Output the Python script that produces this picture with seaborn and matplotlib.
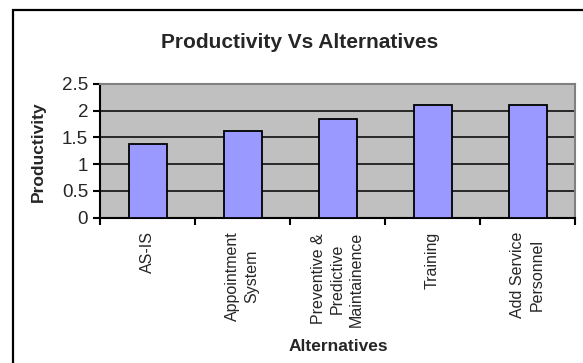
import matplotlib
matplotlib.use("Agg")
import matplotlib.pyplot as plt
from matplotlib.patches import Rectangle
import seaborn as sns

# Chart data
categories = [
    "AS-IS",
    "Appointment\nSystem",
    "Preventive &\nPredictive\nMaintainence",
    "Training",
    "Add Service\nPersonnel",
]
productivity = [1.38, 1.62, 1.84, 2.1, 2.1]
y_ticks = [0, 0.5, 1, 1.5, 2, 2.5]

sns.set_style("ticks")
plt.rcParams["font.family"] = ["Liberation Sans", "DejaVu Sans"]

W, H = 583, 363
fig = plt.figure(figsize=(W / 100, H / 100), dpi=100)
fig.patch.set_facecolor("white")

# Chart-area frame (left and top edges visible)
fig.patches.append(Rectangle((13 / W, -0.1), 1.2, 1 - 10 / H + 0.1,
                             transform=fig.transFigure, fill=False,
                             edgecolor="black", linewidth=1.6, zorder=0))

ax = fig.add_axes([100 / W, 1 - 217.5 / H, 475 / W, 133.5 / H])
ax.set_facecolor("#C0C0C0")

sns.barplot(x=categories, y=productivity, ax=ax, color="#9999FF",
            saturation=1, width=0.4, edgecolor="black", linewidth=1.3,
            zorder=3)

ax.set_xlim(-0.5, len(categories) - 0.5)
ax.set_ylim(0, 2.5)
ax.set_yticks(y_ticks)
ax.set_yticklabels([f"{t:g}" for t in y_ticks], fontsize=13.5)

# Horizontal gridlines
for t in y_ticks[1:-1]:
    ax.axhline(t, color="black", linewidth=1.1, zorder=1)

# Category labels centred under bars, tick marks on category boundaries
ax.set_xticks(range(len(categories)))
ax.set_xticklabels(categories, rotation=90, ha="center", va="top",
                   multialignment="center", fontsize=11.5, linespacing=1.35)
ax.tick_params(axis="x", which="major", length=0, pad=10)
ax.set_xticks([i - 0.5 for i in range(len(categories) + 1)], minor=True)
ax.tick_params(axis="x", which="minor", length=5, width=1.5,
               color="black", direction="out")
ax.tick_params(axis="y", length=5, width=1.5, color="black",
               direction="out", pad=3.5)

for side in ("left", "bottom"):
    ax.spines[side].set_color("black")
    ax.spines[side].set_linewidth(1.5)
for side in ("top", "right"):
    ax.spines[side].set_visible(True)
    ax.spines[side].set_color("#808080")
    ax.spines[side].set_linewidth(1.5)

ax.set_xlabel("Alternatives", fontsize=12.5, fontweight="bold")
ax.xaxis.set_label_coords(0.501, -0.968)
ax.xaxis.label.set_va("center")
ax.set_ylabel("Productivity", fontsize=12.5, fontweight="bold")
ax.yaxis.set_label_coords(-62 / 475, 0.494)
ax.yaxis.label.set_va("center")

fig.suptitle("Productivity Vs Alternatives", x=300 / W, y=1 - 42 / H,
             va="center", ha="center", fontsize=15, fontweight="bold")

fig.savefig("out.png", dpi=100)
